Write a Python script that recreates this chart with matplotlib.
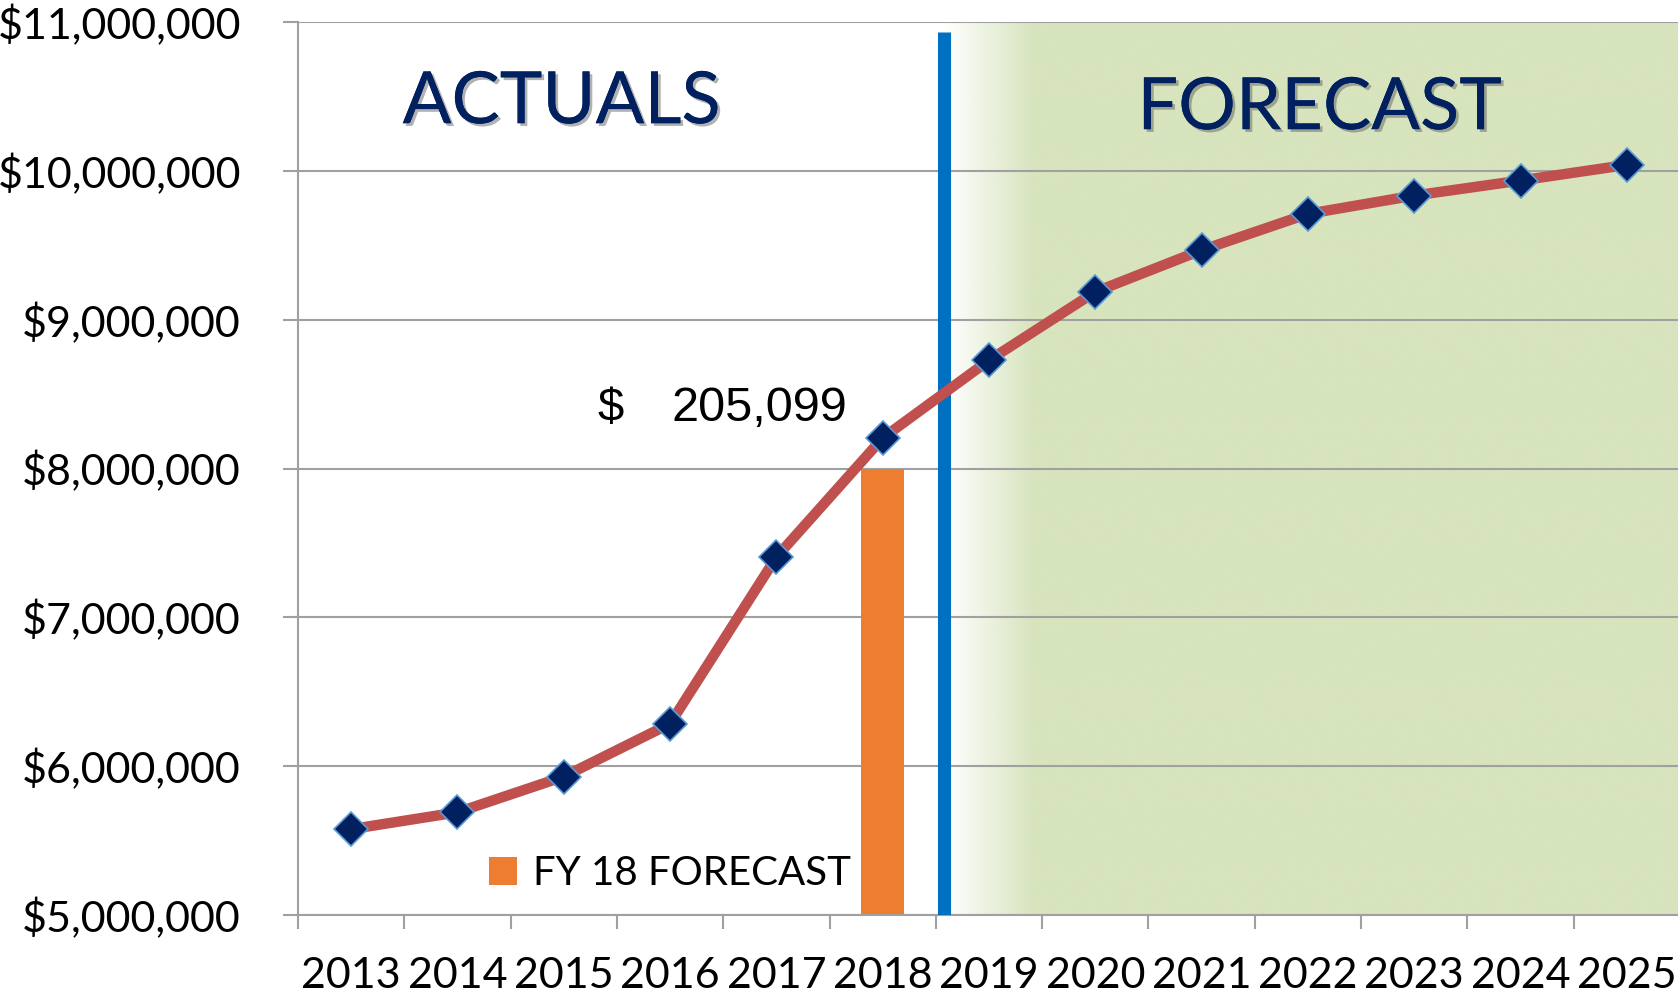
import numpy as np
import matplotlib
matplotlib.use("Agg")
import matplotlib.pyplot as plt
import matplotlib.patheffects as pe
from matplotlib.ticker import FuncFormatter

# data
years = ["2013", "2014", "2015", "2016", "2017", "2018", "2019",
         "2020", "2021", "2022", "2023", "2024", "2025"]
totals = [5577000, 5690000, 5930000, 6285000, 7405000, 8205099, 8727000,
          9187000, 9467000, 9711000, 9834000, 9935000, 10040000]
fy18_forecast = 8000000
fy18_index = 5
divider_x = 5.58  # actuals / forecast boundary

plt.rcParams['font.family'] = ['Lato', 'DejaVu Sans']

fig = plt.figure(figsize=(16.78, 10), dpi=100)
ax = fig.add_axes([298 / 1678, 0.085, 1382 / 1678, 0.893])

x = np.arange(len(years))
ax.set_xlim(-0.5, len(years) - 0.5)
ax.set_ylim(5000000, 11000000)

# forecast shading: white -> green gradient right of the divider
green = np.array([215, 228, 189]) / 255
gx = np.linspace(divider_x, len(years) - 0.5, 600)
alpha = np.clip((gx - divider_x) / 0.85, 0, 1)
img = np.zeros((2, len(gx), 4))
img[..., :3] = green
img[..., 3] = alpha
ax.imshow(img, extent=[divider_x, len(years) - 0.5, 5000000, 11000000],
          aspect='auto', origin='lower', zorder=0, interpolation='bilinear')

# grid
ax.yaxis.grid(True, color='#A0A0A0', linewidth=1.5, zorder=0.5)
ax.set_axisbelow(True)

# FY18 forecast bar
ax.bar(fy18_index, fy18_forecast - 5000000, bottom=5000000, width=0.4,
       color='#ED7D31', zorder=2, label='FY 18 FORECAST')

# divider
ax.plot([divider_x, divider_x], [5000000, 10930000], color='#0070C0',
        linewidth=9.4, solid_capstyle='butt', zorder=3)

# totals line
ax.plot(x, totals, color='#C0504D', linewidth=7.5, marker='D',
        markersize=17, markerfacecolor='#002060', markeredgecolor='#5B9BD5',
        markeredgewidth=1.2, zorder=4)

# difference label
diff = totals[fy18_index] - fy18_forecast
ax.annotate("$", (fy18_index, totals[fy18_index]), xytext=(-285, 29),
            textcoords='offset pixels', ha='left', va='center',
            fontsize=34, family='Liberation Sans', zorder=5)
ax.annotate(f"{diff:,.0f}", (fy18_index, totals[fy18_index]), xytext=(-35, 29),
            textcoords='offset pixels', ha='right', va='center',
            fontsize=35, family='Liberation Sans', zorder=5)

# section titles
shadow = [pe.withSimplePatchShadow(offset=(2, -2), shadow_rgbFace='#555555', alpha=0.45),
          pe.Normal()]
ax.text(1.98, 10320000, "ACTUALS", ha='center', va='baseline', fontsize=52,
        color='#002060', path_effects=shadow, zorder=5)
ax.text(9.11, 10280000, "FORECAST", ha='center', va='baseline', fontsize=52,
        color='#002060', path_effects=shadow, zorder=5)

# axes styling
for s in ['top', 'right']:
    ax.spines[s].set_visible(False)
for s in ['left', 'bottom']:
    ax.spines[s].set_color('#A0A0A0')
    ax.spines[s].set_linewidth(1.5)

ax.yaxis.set_major_formatter(FuncFormatter(lambda v, p: f"${v:,.0f}"))
ax.tick_params(axis='y', length=11, width=1.5, color='#A0A0A0', pad=30,
               labelsize=31)
ax.set_xticks(np.arange(-0.5, len(years)), labels=[])
ax.set_xticks(x, labels=years, minor=True)
ax.tick_params(axis='x', which='major', length=10, width=1.5, color='#A0A0A0')
ax.tick_params(axis='x', which='minor', length=0, pad=30, labelsize=31)

ax.legend(loc='center left', bbox_to_anchor=(0.138, 0.046), frameon=False,
          fontsize=29, handlelength=0.7, handleheight=0.7, handletextpad=0.4,
          borderpad=0, borderaxespad=0)

fig.savefig("out.png", dpi=100)
